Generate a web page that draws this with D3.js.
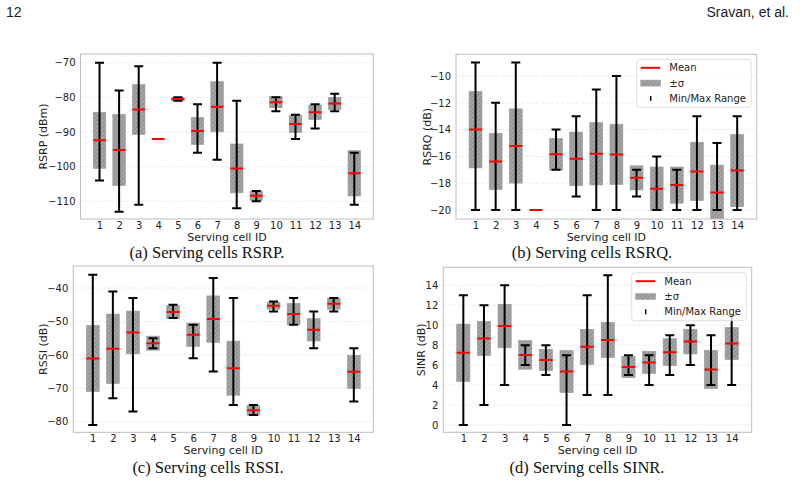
<!DOCTYPE html>
<html>
<head>
<meta charset="utf-8">
<script src="https://cdn.jsdelivr.net/npm/d3@7"></script>
<style>
  body { margin: 0; background: #fff; }
  text { font-family: "DejaVu Sans", sans-serif; }
</style>
</head>
<body>
<svg id="vis"></svg>
<script>
const width = 800;
const height = 481;

const cells = [1, 2, 3, 4, 5, 6, 7, 8, 9, 10, 11, 12, 13, 14];

// RSRP (dBm)
const rsrpMean = [-92.4, -95.2, -83.5, -92, -80.5, -89.7, -82.7, -100.5, -108.4, -81.4, -87.7, -84.3, -81.8, -101.9];
const rsrpStd  = [8.1, 10.25, 7.2, 0, 0.5, 3.9, 7.25, 7.05, 1.3, 1.6, 2.45, 2.1, 1.75, 6.55];
const rsrpMin  = [-104, -113, -111, -92, -81, -96, -98, -112, -110, -84, -92, -89, -84, -111];
const rsrpMax  = [-70, -78, -71, -92, -80, -82, -70, -81, -107, -80, -85, -82, -79, -96];
const rsrpTicks = [-110, -100, -90, -80, -70];

// RSRQ (dB)
const rsrqMean = [-14, -16.37, -15.22, -20, -15.84, -16.18, -15.8, -15.85, -17.6, -18.42, -18.14, -17.12, -18.7, -17.05];
const rsrqStd  = [2.86, 2.1, 2.77, 0, 1.18, 2.0, 2.33, 2.24, 0.9, 1.63, 1.35, 2.18, 2.05, 2.7];
const rsrqMin  = [-20, -20, -20, -20, -17, -19, -20, -20, -19, -20, -20, -20, -20, -20];
const rsrqMax  = [-9, -12, -9, -20, -14, -13, -11, -10, -17, -16, -17, -13, -15, -13];
const rsrqTicks = [-20, -18, -16, -14, -12, -10];

// RSSI (dB)
const rssiMean = [-61.1, -58.2, -53.3, -56.5, -47.2, -54, -49.3, -64, -76.6, -45.3, -47.8, -52.5, -44.7, -65.1];
const rssiStd  = [9.9, 10.4, 6.4, 2.1, 1.9, 3.5, 6.95, 8.1, 1.45, 1.05, 3.2, 3.35, 1.65, 4.95];
const rssiMin  = [-81, -73, -77, -58, -49, -61, -65, -75, -78, -47, -51, -58, -47, -74];
const rssiMax  = [-36, -41, -43, -55, -45, -51, -37, -43, -75, -44, -43, -47, -43, -58];
const rssiTicks = [-80, -70, -60, -50, -40];

// SINR (dB)
const sinrMean = [7.23, 8.67, 9.92, 7.02, 6.52, 5.36, 7.83, 8.52, 5.81, 6.27, 7.3, 8.36, 5.56, 8.16];
const sinrStd  = [2.88, 1.72, 2.18, 1.43, 1.07, 2.12, 1.76, 1.77, 1.07, 1.12, 1.35, 1.24, 1.92, 1.61];
const sinrMin  = [0, 2, 4, 6, 5, 0, 3, 3, 5, 4, 5, 6, 4, 4];
const sinrMax  = [13, 12, 14, 8, 8, 7, 13, 15, 7, 7, 9, 10, 9, 11];
const sinrTicks = [0, 2, 4, 6, 8, 10, 12, 14];

const legendLabels = ["Mean", "\u00b1\u03c3", "Min/Max Range"];

const svg = d3.select("svg#vis").attr("width", width).attr("height", height);
svg.append("rect").attr("width", width).attr("height", height).attr("fill", "#fff");

// hatch pattern for the +-sigma boxes
const pat = svg.append("defs").append("pattern")
  .attr("id", "hatch")
  .attr("patternUnits", "userSpaceOnUse")
  .attr("width", 3).attr("height", 3)
  .attr("patternTransform", "rotate(45)");
pat.append("rect").attr("width", 3).attr("height", 3).attr("fill", "#a6a6a6");
pat.append("line").attr("x1", 0).attr("y1", 0).attr("x2", 0).attr("y2", 3)
  .attr("stroke", "#6e6e6e").attr("stroke-width", 0.9);

// page header
svg.append("text").attr("x", 6).attr("y", 17).text("12")
  .style("font-family", "Liberation Sans").style("font-size", "14px").style("fill", "#222");
svg.append("text").attr("x", 789).attr("y", 17).attr("text-anchor", "end").text("Sravan, et al.")
  .style("font-family", "Liberation Sans").style("font-size", "14px").style("fill", "#222");

const panels = [
  { box: [80.5, 54, 373.3, 219], y: [-115.1, -67.5], ticks: rsrpTicks, ylabel: "RSRP (dBm)", ylx: 43,
    mean: rsrpMean, std: rsrpStd, min: rsrpMin, max: rsrpMax, caption: "(a) Serving cells RSRP.", cx: 207, cy: 258, legend: null },
  { box: [456, 54.3, 756.7, 219], y: [-20.67, -8.38], ticks: rsrqTicks, ylabel: "RSRQ (dB)", ylx: 427,
    mean: rsrqMean, std: rsrqStd, min: rsrqMin, max: rsrqMax, caption: "(b) Serving cells RSRQ.", cx: 592, cy: 258, legend: [636.7, 59.3] },
  { box: [73.3, 266, 373.3, 432.3], y: [-83.2, -33.4], ticks: rssiTicks, ylabel: "RSSI (dB)", ylx: 43,
    mean: rssiMean, std: rssiStd, min: rssiMin, max: rssiMax, caption: "(c) Serving cells RSSI.", cx: 208, cy: 472.5, legend: null },
  { box: [443.3, 267.3, 751.7, 432.3], y: [-0.73, 15.8], ticks: sinrTicks, ylabel: "SINR (dB)", ylx: 421,
    mean: sinrMean, std: sinrStd, min: sinrMin, max: sinrMax, caption: "(d) Serving cells SINR.", cx: 587, cy: 472.5, legend: [631.7, 272.7] }
];

panels.forEach(drawPanel);

function drawPanel(p) {
  const [x0, y0, x1, y1] = p.box;
  const x = d3.scaleLinear().domain([0.03, 14.97]).range([x0, x1]);
  const y = d3.scaleLinear().domain(p.y).range([y1, y0]);
  const bw = x(0.64) - x(0);
  const cap = 4.5;

  const g = svg.append("g");

  // grid
  g.selectAll("gridLine")
    .data(p.ticks)
    .enter()
    .append("line")
    .attr("x1", x0).attr("x2", x1)
    .attr("y1", d => y(d)).attr("y2", d => y(d))
    .style("stroke", "#e4e4e4").style("stroke-width", 0.8).style("stroke-dasharray", "3,2");

  const clip = "clip" + Math.round(x0);
  svg.select("defs").append("clipPath").attr("id", clip)
    .append("rect").attr("x", x0).attr("y", y0).attr("width", x1 - x0).attr("height", y1 - y0);
  const plot = g.append("g").attr("clip-path", "url(#" + clip + ")");

  // +- sigma boxes
  plot.selectAll("sigmaBox")
    .data(cells)
    .enter()
    .filter((d, i) => p.std[i] > 0)
    .append("rect")
    .attr("x", d => x(d) - bw / 2)
    .attr("width", bw)
    .attr("y", d => y(p.mean[d - 1] + p.std[d - 1]))
    .attr("height", d => y(p.mean[d - 1] - p.std[d - 1]) - y(p.mean[d - 1] + p.std[d - 1]))
    .style("fill", "url(#hatch)")
    .style("stroke", "#999").style("stroke-width", 0.6);

  // min/max whiskers
  const wh = plot.selectAll("whisker")
    .data(cells)
    .enter()
    .append("g")
    .style("stroke", "#000").style("stroke-width", 2);
  wh.append("line")
    .attr("x1", d => x(d)).attr("x2", d => x(d))
    .attr("y1", d => y(p.min[d - 1])).attr("y2", d => y(p.max[d - 1]));
  wh.append("line")
    .attr("x1", d => x(d) - cap).attr("x2", d => x(d) + cap)
    .attr("y1", d => y(p.min[d - 1])).attr("y2", d => y(p.min[d - 1]));
  wh.append("line")
    .attr("x1", d => x(d) - cap).attr("x2", d => x(d) + cap)
    .attr("y1", d => y(p.max[d - 1])).attr("y2", d => y(p.max[d - 1]));

  // means
  plot.selectAll("meanLine")
    .data(cells)
    .enter()
    .append("line")
    .attr("x1", d => x(d) - bw / 2).attr("x2", d => x(d) + bw / 2)
    .attr("y1", d => y(p.mean[d - 1])).attr("y2", d => y(p.mean[d - 1]))
    .style("stroke", "#ff0000").style("stroke-width", 2);

  // frame
  g.append("rect")
    .attr("x", x0).attr("y", y0).attr("width", x1 - x0).attr("height", y1 - y0)
    .style("fill", "none").style("stroke", "#bdbdbd").style("stroke-width", 1);

  // axes
  const yAxis = g.append("g").attr("transform", translate(x0, 0))
    .call(d3.axisLeft(y).tickValues(p.ticks).tickSize(0).tickPadding(5));
  const xAxis = g.append("g").attr("transform", translate(0, y1))
    .call(d3.axisBottom(x).tickValues(cells).tickSize(0).tickPadding(3).tickFormat(d3.format("d")));
  [yAxis, xAxis].forEach(a => {
    a.select(".domain").remove();
    a.selectAll("text").style("font-size", "10px").style("fill", "#222");
  });

  g.append("text")
    .attr("x", (x0 + x1) / 2).attr("y", y1 + 21.5)
    .attr("text-anchor", "middle")
    .style("font-size", "11px").style("fill", "#222")
    .text("Serving cell ID");

  g.append("text")
    .attr("transform", translate(p.ylx, (y0 + y1) / 2) + " rotate(-90)")
    .attr("text-anchor", "middle").attr("dy", "0.35em")
    .style("font-size", "11px").style("fill", "#222")
    .text(p.ylabel);

  g.append("text")
    .attr("x", p.cx).attr("y", p.cy)
    .attr("text-anchor", "middle")
    .style("font-family", "Liberation Serif").style("font-size", "16.5px").style("fill", "#111")
    .text(p.caption);

  if (p.legend) drawLegend(p.legend[0], p.legend[1]);
}

function drawLegend(lx, ly) {
  const lg = svg.append("g").attr("transform", translate(lx, ly));
  lg.append("rect")
    .attr("width", 114.5).attr("height", 48).attr("rx", 3)
    .style("fill", "#fff").style("fill-opacity", 0.8)
    .style("stroke", "#d6d6d6").style("stroke-width", 0.8);

  const row = lg.selectAll("legendRow")
    .data(legendLabels)
    .enter()
    .append("g")
    .attr("transform", (d, i) => translate(0, 8.5 + i * 15.3));

  row.filter((d, i) => i === 0).append("line")
    .attr("x1", 4).attr("x2", 23.5).attr("y1", 0).attr("y2", 0)
    .style("stroke", "#ff0000").style("stroke-width", 2);
  row.filter((d, i) => i === 1).append("rect")
    .attr("x", 4).attr("y", -3).attr("width", 20).attr("height", 6)
    .style("fill", "url(#hatch)").style("stroke", "#999").style("stroke-width", 0.5);
  row.filter((d, i) => i === 2).append("line")
    .attr("x1", 14).attr("x2", 14).attr("y1", -2.5).attr("y2", 2.5)
    .style("stroke", "#000").style("stroke-width", 1.5);

  row.append("text")
    .attr("x", 32.6).attr("y", 0).attr("dy", "0.35em")
    .style("font-size", "10px").style("fill", "#222")
    .text(d => d);
}

function translate(x, y) {
  return "translate(" + String(x) + "," + String(y) + ")";
}
</script>
</body>
</html>
